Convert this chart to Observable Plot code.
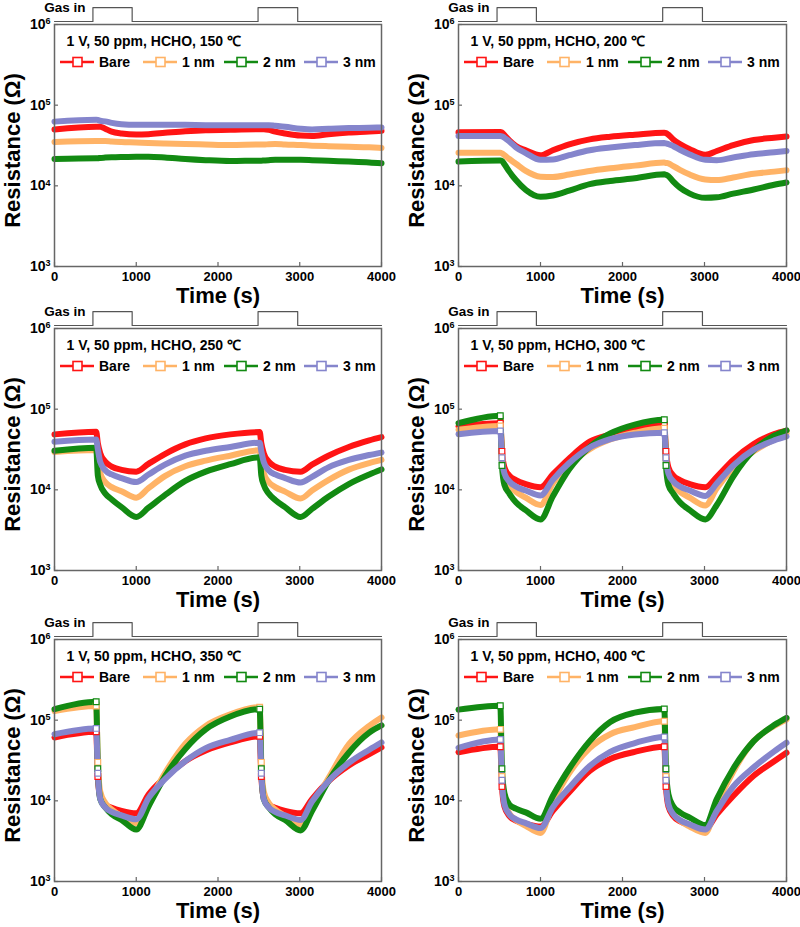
<!DOCTYPE html>
<html><head><meta charset="utf-8">
<script src="https://cdn.jsdelivr.net/npm/d3@7"></script>
<script src="https://cdn.jsdelivr.net/npm/@observablehq/plot@0.6"></script>
<style>
body{margin:0;background:#fff;}
#wrap{position:relative;width:800px;height:927px;font-family:"Liberation Sans",Arial,sans-serif;}
#wrap svg{position:absolute;overflow:visible;}
</style></head><body><div id="wrap"></div>
<script>
// ---------- data ----------
const SERIES = ["Bare", "1 nm", "2 nm", "3 nm"];
const COLORS = ["#ff1414", "#ffb366", "#128a12", "#8585cc"];
const TEMPS = [150, 200, 250, 300, 350, 400];
const X_TICKS = [0, 1000, 2000, 3000, 4000];
const Y_TICKS = [1e3, 1e4, 1e5, 1e6];
// time (s)
const TIME = [0, 510, 530, 560, 620, 700, 820, 1000, 1150, 1350, 1600, 1850, 2150, 2510, 2530, 2560, 2620, 2700, 2820, 3010, 3150, 3350, 3600, 3850, 4000];
// gas pulse (0 = off, 1 = on)
const GAS_T  = [0, 470, 470, 950, 950, 2490, 2490, 2975, 2975, 4000];
const GAS_ON = [0, 0, 1, 1, 0, 0, 1, 1, 0, 0];
// resistance, kOhm
const R150_bare = [50, 54, 54, 54, 51, 47, 44.6, 43.2, 43.7, 45.4, 47.6, 49, 49.5, 50.3, 50.3, 50.3, 49.5, 47, 44.6, 42, 41.6, 43.7, 45.8, 47, 48];
const R150_1nm  = [35, 36, 36, 36, 36, 35.5, 35, 34.5, 34, 33.5, 33, 32.5, 32, 32.5, 32.5, 32.5, 32.8, 33, 32.5, 32, 31.5, 31, 30.5, 30, 29.5];
const R150_2nm  = [21.5, 22, 22, 22.2, 22.4, 22.6, 22.8, 23, 23, 22.5, 21.5, 20.8, 20.3, 20.5, 20.5, 20.6, 20.8, 21, 21, 21, 20.8, 20.4, 20, 19.5, 19];
const R150_3nm  = [62.5, 66, 65.5, 64, 63, 60.4, 58, 57, 57, 57, 57, 56.5, 56.5, 56.5, 56.5, 56.5, 56.5, 55.5, 54, 51, 50, 51, 52, 52.5, 53];

const R200_bare = [46, 46.5, 46, 42.7, 36.6, 31.2, 27.6, 23.9, 27.6, 32.7, 37.7, 40.6, 43, 45.5, 45, 43, 37.5, 33, 28.5, 24.2, 27, 32, 37, 39.5, 41];
const R200_1nm  = [25.7, 25.7, 25.3, 24, 21.5, 18.8, 15.3, 13, 12.9, 13.8, 15.3, 16.5, 17.8, 19.4, 19.2, 19, 17.5, 15.8, 13.8, 12, 11.8, 12.7, 14.1, 15, 15.6];
const R200_2nm  = [20, 20.6, 20.3, 18.5, 15, 11.8, 8.9, 7.3, 7.6, 8.7, 10.5, 11.5, 12.4, 13.9, 13.7, 13.2, 11.3, 9.5, 8, 7.1, 7.2, 8, 9, 10.3, 11];
const R200_3nm  = [41.4, 41.5, 41, 39.5, 35.5, 30, 25.5, 21, 21.2, 24, 27.6, 29.8, 32, 34, 33.5, 33, 31, 28, 24.5, 21, 20.8, 22.5, 24.7, 26, 27];

const R250_bare = [48.7, 52.5, 37.7, 28.4, 22.4, 19.4, 17.7, 16.8, 21, 27.8, 36.6, 43.4, 48.7, 52, 37.7, 28.4, 22.4, 19.4, 17.7, 16.8, 20.5, 26.5, 34, 41, 45];
const R250_1nm  = [29.5, 31.2, 22, 16, 12.5, 10.8, 9.6, 8, 10.5, 14.8, 19.6, 23, 26.5, 31, 22, 16, 12.5, 10.8, 9.5, 7.8, 9.8, 13.2, 17.8, 21.5, 23.5];
const R250_2nm  = [30.6, 33.3, 15, 11.5, 9, 7.6, 6.1, 4.6, 6, 8.6, 12.9, 16.8, 20.8, 25.3, 15, 11.5, 9, 7.5, 6.1, 4.6, 5.8, 8.2, 11.8, 15.5, 17.9];
const R250_3nm  = [39.5, 42, 32, 22, 17.5, 15.5, 14, 12.5, 15.5, 20.5, 26.5, 30.5, 34, 38.4, 30, 22, 17.5, 15.5, 14, 12.3, 14.5, 19, 23.5, 27, 29];

const R300_bare = [61, 67, 30, 19, 15, 13.2, 11.8, 10.8, 15.5, 24.5, 39.5, 48.5, 57, 64, 30, 19, 15, 13.2, 11.8, 10.8, 14.5, 23.5, 37, 49, 54];
const R300_1nm  = [55.5, 62, 25, 15, 11.5, 9.5, 8, 6.5, 12, 20.5, 32, 42, 51, 58, 25, 15, 11.5, 9.5, 8, 6.4, 10.5, 18.5, 30, 42, 50];
const R300_2nm  = [67, 83, 20, 11.5, 9, 7, 5.6, 4.3, 8.3, 18, 34, 50, 64.5, 74, 20, 11.5, 9, 7, 5.6, 4.3, 6.5, 14.6, 31, 46.8, 54.5];
const R300_3nm  = [49, 53.8, 25, 16, 12.7, 11, 9.8, 8.5, 13.3, 21.5, 33.5, 42.5, 48.5, 51, 25, 16, 12.7, 11, 9.8, 8.4, 12, 20, 31.5, 41, 45.9];

const R350_bare = [61, 71.6, 20, 11, 9, 8.2, 7.5, 7, 12, 19.5, 31, 42, 53, 63, 20, 11, 9, 8.2, 7.5, 7, 10.5, 17.5, 27.5, 38, 46];
const R350_1nm  = [130, 150, 30, 13, 9.5, 7.8, 6.5, 5.3, 9.5, 22, 51, 85, 118, 145, 30, 13, 9.5, 7.8, 6.5, 5.1, 8.5, 19, 50, 85, 108];
const R350_2nm  = [137, 169, 25, 10.5, 8.3, 6.8, 5.8, 4.4, 8.5, 20, 44, 77, 111, 137, 25, 10.5, 8.3, 6.8, 5.8, 4.3, 7.5, 17.5, 39.5, 70, 86];
const R350_3nm  = [67, 79, 22, 10.5, 8.3, 7.3, 6.6, 5.9, 10.8, 18.5, 31, 45, 57, 70, 22, 10.5, 8.3, 7.3, 6.6, 5.8, 9.8, 17.5, 29.5, 43, 53];

const R400_bare = [40, 46.8, 15, 8.5, 6.5, 5.7, 5.2, 4.8, 7.5, 12.8, 23.5, 33, 40.5, 46.8, 15, 8.5, 6.5, 5.6, 5, 4.5, 6.8, 11.5, 20.5, 31, 39.5];
const R400_1nm  = [64.5, 77, 20, 10, 7, 5.8, 4.9, 4, 9.5, 22, 45, 67, 82, 97, 20, 10, 7, 5.7, 4.8, 4, 9, 23, 55, 85, 102];
const R400_2nm  = [135, 151, 25, 12.5, 9, 8, 7.2, 6, 11.5, 25, 55, 95, 124, 138, 25, 12, 8.5, 7.2, 6.2, 5, 10.5, 25, 55, 87, 107];
const R400_3nm  = [45.5, 57.7, 18, 9, 6.8, 5.9, 5.3, 4.6, 8.3, 14.5, 27, 40.5, 52, 62, 18, 9, 6.8, 5.8, 5.1, 4.4, 7.5, 15, 26, 41, 52.5];

const PANEL_DATA = [
  [R150_bare, R150_1nm, R150_2nm, R150_3nm],
  [R200_bare, R200_1nm, R200_2nm, R200_3nm],
  [R250_bare, R250_1nm, R250_2nm, R250_3nm],
  [R300_bare, R300_1nm, R300_2nm, R300_3nm],
  [R350_bare, R350_1nm, R350_2nm, R350_3nm],
  [R400_bare, R400_1nm, R400_2nm, R400_3nm]
];

// ---------- layout ----------
const FONT = '"Liberation Sans", Arial, sans-serif';
const W = 400, H = 310, MT = 24, MB = 44;
const ROW_TOP = [0, 304, 615];
const COL_LEFT = [0, 400];
const ML = [54, 58], MR = [19, 14];
const LEG_X = [6, 89, 170, 250];
const GAS_LEVEL = [1.09e6, 1.62e6];
const STEP_IDX = [1, 2, 13, 14]; // samples on the fast response edges (marker squares visible)

const wrap = document.getElementById("wrap");

TEMPS.forEach((temp, p) => {
  const col = p % 2, row = Math.floor(p / 2);
  const ml = ML[col], mr = MR[col];
  const FW = W - ml - mr, FH = H - MT - MB;
  const rows = [];
  SERIES.forEach((s, k) => {
    PANEL_DATA[p][k].forEach((v, i) => rows.push({t: TIME[i], r: v * 1000, series: s, edge: STEP_IDX.includes(i)}));
  });
  const edgeRows = temp >= 300 ? rows.filter(d => d.edge) : [];
  const gas = GAS_T.map((t, i) => ({t, g: GAS_LEVEL[GAS_ON[i]]}));
  const title = `1 V, 50 ppm, HCHO, ${temp} \u2103`;

  const svg = Plot.plot({
    width: W, height: H,
    marginTop: MT, marginBottom: MB, marginLeft: ml, marginRight: mr,
    style: {fontFamily: FONT, fontWeight: "bold", color: "#000", background: "none", overflow: "visible"},
    x: {domain: [0, 4000], label: null},
    y: {type: "log", domain: [1e3, 1e6], label: null},
    color: {domain: SERIES, range: COLORS},
    marks: [
      Plot.line(rows, {x: "t", y: "r", z: "series", stroke: "series", strokeWidth: 6, curve: "monotone-x", strokeLinejoin: "round"}),
      Plot.dot(edgeRows, {x: "t", y: "r", stroke: "series", fill: "white", symbol: "square", r: 3.2, strokeWidth: 1.2}),
      Plot.frame({stroke: "#666", strokeWidth: 1.5}),
      Plot.tickX(X_TICKS, {x: d => d, insetTop: FH - 4, stroke: "#666", strokeWidth: 1.2}),
      Plot.tickY(Y_TICKS, {y: d => d, insetRight: FW - 4, stroke: "#666", strokeWidth: 1.2}),
      Plot.axisX({ticks: X_TICKS, tickSize: 0, tickPadding: 5, tickFormat: d => String(d), fontSize: 13, label: null}),
      Plot.axisY({ticks: Y_TICKS, tickSize: 0, tickPadding: 4, tickFormat: d => "10|" + Math.round(Math.log10(d)), fontSize: 14, label: null}),
      Plot.line(gas, {x: "t", y: "g", stroke: "#555", strokeWidth: 1.2}),
      Plot.text(["Gas in"], {text: d => d, frameAnchor: "top-left", dx: 31, dy: -16.5, textAnchor: "end", lineAnchor: "middle", fontSize: 13.5}),
      Plot.text([title], {text: d => d, frameAnchor: "top-left", dx: 12, dy: 17, textAnchor: "start", lineAnchor: "middle", fontSize: 14}),
      Plot.text(["Time (s)"], {text: d => d, frameAnchor: "bottom", dy: 29, textAnchor: "middle", lineAnchor: "middle", fontSize: 22}),
      Plot.text(["Resistance (\u03A9)"], {text: d => d, frameAnchor: "left", dx: -42, dy: 5, rotate: -90, textAnchor: "middle", lineAnchor: "middle", fontSize: 22})
    ]
  });
  svg.style.left = COL_LEFT[col] + "px";
  svg.style.top = ROW_TOP[row] + "px";

  // superscript exponents on y tick labels
  d3.select(svg).selectAll('g[aria-label="y-axis tick label"] text').each(function() {
    const parts = this.textContent.split("|");
    const el = d3.select(this);
    el.text(parts[0]);
    el.append("tspan").attr("dy", "-0.5em").attr("font-size", "9px").text(parts[1]);
  });

  // legend
  const lg = d3.select(svg).append("g").attr("font-family", FONT).attr("font-weight", "bold")
    .attr("font-size", 14).attr("text-anchor", "start");
  SERIES.forEach((s, k) => {
    const x0 = ml + LEG_X[k], y0 = MT + 38;
    lg.append("line").attr("x1", x0).attr("x2", x0 + 34).attr("y1", y0).attr("y2", y0)
      .attr("stroke", COLORS[k]).attr("stroke-width", 2.5);
    lg.append("rect").attr("x", x0 + 13).attr("y", y0 - 4.5).attr("width", 9).attr("height", 9)
      .attr("fill", "#fff").attr("stroke", COLORS[k]).attr("stroke-width", 1.6);
    lg.append("text").attr("x", x0 + 39).attr("y", y0).attr("dy", "0.36em").attr("fill", "#000").text(s);
  });

  wrap.appendChild(svg);
});
</script></body></html>
